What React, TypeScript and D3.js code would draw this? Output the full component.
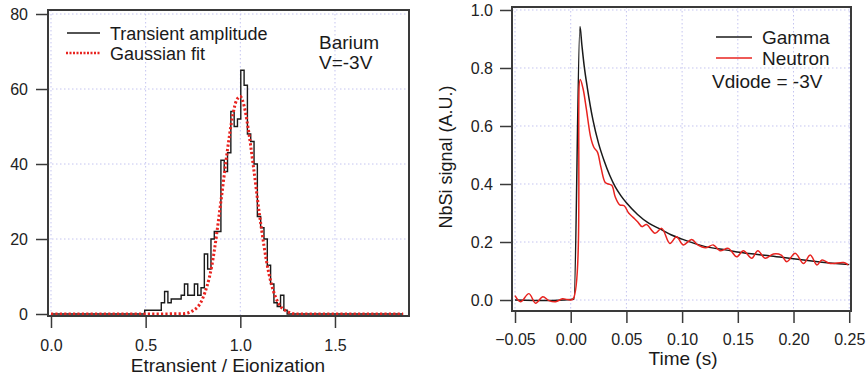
import React, { useEffect, useRef } from "react";
import * as d3 from "d3";

// left panel: histogram of transient amplitude + gaussian fit
const histStart = 0.495;
const histBin = 0.0175;
const histCounts = [
  1, 1, 1, 1, 1, 3, 6, 3, 4, 4, 4, 5, 8, 5, 5, 8, 5, 7, 16, 12, 20, 22, 22, 41,
  38, 43, 54, 50, 52, 65, 61, 48, 46, 40, 26, 23, 20, 13, 8, 3, 2, 5, 1, 0,
];
const histEnd = 1.86;

const fitX = [0, 0.5, 0.7, 0.75, 0.8, 0.85, 0.9, 0.93, 0.96, 0.98, 1.0, 1.02, 1.04, 1.07, 1.1, 1.15, 1.2, 1.25, 1.3, 1.86];
const fitY = [0, 0, 0.1, 0.9, 4, 13, 31, 43, 53, 57, 58, 55.5, 50, 39, 27, 11, 3, 0.6, 0, 0];

const histXTicks = [0, 0.5, 1.0, 1.5];
const histYTicks = [0, 20, 40, 60, 80];

// right panel: NbSi signal
const gammaT = [-0.05, -0.02, 0.0, 0.003, 0.0083, 0.01, 0.012, 0.015, 0.02, 0.025, 0.03, 0.035, 0.04, 0.045, 0.05, 0.06, 0.07, 0.08, 0.09, 0.1, 0.12, 0.14, 0.16, 0.18, 0.2, 0.22, 0.25];
const gammaV = [0.0, -0.002, 0.002, 0.003, 0.943, 0.88, 0.81, 0.73, 0.62, 0.54, 0.48, 0.43, 0.39, 0.36, 0.335, 0.295, 0.265, 0.245, 0.225, 0.21, 0.185, 0.172, 0.16, 0.152, 0.142, 0.133, 0.122];

const neutronT = [
  -0.05, -0.045, -0.0375, -0.0315, -0.025, -0.0195, -0.0135, -0.0075, -0.003, 0.002,
  0.0085, 0.011, 0.014, 0.018, 0.021, 0.024, 0.027, 0.031, 0.034, 0.037, 0.04, 0.044,
  0.048, 0.052, 0.056, 0.06, 0.064, 0.068, 0.0757, 0.0817, 0.089, 0.095, 0.101, 0.1086,
  0.114, 0.121, 0.128, 0.134, 0.1415, 0.149, 0.155, 0.1625, 0.168, 0.1745, 0.182, 0.189,
  0.194, 0.2015, 0.209, 0.215, 0.221, 0.2255, 0.233, 0.245, 0.249,
];
const neutronV = [
  0.015, -0.006, 0.022, -0.011, 0.011, -0.002, -0.006, 0.004, 0.002, 0.003,
  0.76, 0.73, 0.66, 0.56, 0.525, 0.51, 0.46, 0.405, 0.4, 0.395, 0.355, 0.328,
  0.325, 0.3, 0.285, 0.27, 0.253, 0.26, 0.23, 0.247, 0.195, 0.218, 0.19, 0.209,
  0.19, 0.18, 0.19, 0.17, 0.178, 0.149, 0.17, 0.144, 0.17, 0.144, 0.159, 0.155,
  0.132, 0.161, 0.126, 0.155, 0.121, 0.138, 0.126, 0.129, 0.121,
];

const sigXTicks = [-0.05, 0, 0.05, 0.1, 0.15, 0.2, 0.25];
const sigYTicks = [0, 0.2, 0.4, 0.6, 0.8, 1.0];

const FONT = "'Liberation Sans', Arial, Helvetica, sans-serif";
const AXIS = "#3a3a3a";
const GRID = "#c4c4f0";
const RED = "#e8231f";

function frameAndGrid(g, x, y, xt, yt) {
  const [x0, x1] = x.range();
  const [y1, y0] = y.range();
  const grid = g.append("g").attr("stroke", GRID).attr("stroke-width", 1).attr("stroke-dasharray", "1.5,2.5");
  xt.forEach((t) => grid.append("line").attr("x1", x(t)).attr("x2", x(t)).attr("y1", y0).attr("y2", y1));
  yt.forEach((t) => grid.append("line").attr("x1", x0).attr("x2", x1).attr("y1", y(t)).attr("y2", y(t)));
}

function axes(g, x, y, xt, yt, xfmt, yfmt, xpad, ypad) {
  const [x0] = x.range();
  const [y1] = y.range();
  const ax = g.append("g").attr("transform", `translate(0,${y1})`)
    .call(d3.axisBottom(x).tickValues(xt).tickSize(12).tickPadding(xpad).tickFormat(xfmt));
  const ay = g.append("g").attr("transform", `translate(${x0},0)`)
    .call(d3.axisLeft(y).tickValues(yt).tickSize(12).tickPadding(ypad).tickFormat(yfmt));
  [ax, ay].forEach((a) => {
    a.select(".domain").remove();
    a.selectAll("line").attr("stroke", AXIS).attr("stroke-width", 1.5);
    a.selectAll("text").attr("fill", "#222").style("font-size", "16px").style("font-family", FONT);
  });
}

function frame(g, x, y) {
  const [x0, x1] = x.range();
  const [y1, y0] = y.range();
  g.append("rect").attr("x", x0).attr("y", y0).attr("width", x1 - x0).attr("height", y1 - y0)
    .attr("fill", "none").attr("stroke", AXIS).attr("stroke-width", 2);
}

function label(g, text, x, y, size, anchor = "start") {
  return g.append("text").attr("x", x).attr("y", y).attr("text-anchor", anchor)
    .style("font-size", size + "px").style("font-family", FONT).attr("fill", "#1a1a1a").text(text);
}

function drawHistogram(g) {
  const x = d3.scaleLinear().domain([-0.0158, 1.891]).range([48, 409]);
  const y = d3.scaleLinear().domain([-0.533, 81.07]).range([316, 10]);

  frameAndGrid(g, x, y, histXTicks, histYTicks.filter((d) => d > 0));

  const steps = [[0, 0], ...histCounts.map((c, i) => [histStart + i * histBin, c]), [histEnd, 0]];
  const stepLine = d3.line().x((d) => x(d[0])).y((d) => y(d[1])).curve(d3.curveStepAfter);
  g.append("path").attr("d", stepLine(steps)).attr("fill", "none").attr("stroke", "#1a1a1a").attr("stroke-width", 1.4);

  const fitLine = d3.line().x((d, i) => x(fitX[i])).y((d) => y(d)).curve(d3.curveMonotoneX);
  g.append("path").attr("d", fitLine(fitY)).attr("fill", "none").attr("stroke", RED)
    .attr("stroke-width", 3).attr("stroke-dasharray", "2.2,2.2");

  frame(g, x, y);
  axes(g, x, y, histXTicks, histYTicks, d3.format(".1f"), d3.format("d"), 12, 8);

  g.append("line").attr("x1", 67).attr("x2", 100).attr("y1", 33).attr("y2", 33).attr("stroke", "#1a1a1a").attr("stroke-width", 1.5);
  g.append("line").attr("x1", 66).attr("x2", 100).attr("y1", 53).attr("y2", 53).attr("stroke", RED)
    .attr("stroke-width", 2.5).attr("stroke-dasharray", "2,1.5");
  label(g, "Transient amplitude", 110, 39.5, 18);
  label(g, "Gaussian fit", 110, 59.5, 18);
  label(g, "Barium", 319, 49, 19);
  label(g, "V=-3V", 319, 69, 19);
  label(g, "Etransient / Eionization", 228, 372, 19, "middle");
}

function drawSignal(g) {
  const x = d3.scaleLinear().domain([-0.0527, 0.2516]).range([512, 851]);
  const y = d3.scaleLinear().domain([-0.0379, 1.0103]).range([311, 7]);

  frameAndGrid(g, x, y, sigXTicks, sigYTicks);

  const gammaLine = d3.line().x((d, i) => x(gammaT[i])).y((d) => y(d)).curve(d3.curveMonotoneX);
  g.append("path").attr("d", gammaLine(gammaV)).attr("fill", "none").attr("stroke", "#1a1a1a").attr("stroke-width", 1.5);

  const neutronLine = d3.line().x((d, i) => x(neutronT[i])).y((d) => y(d)).curve(d3.curveCatmullRom.alpha(0.5));
  g.append("path").attr("d", neutronLine(neutronV)).attr("fill", "none").attr("stroke", RED).attr("stroke-width", 1.5);

  frame(g, x, y);
  axes(g, x, y, sigXTicks, sigYTicks, d3.format(".2f"), d3.format(".1f"), 11, 7);

  g.append("line").attr("x1", 716).attr("x2", 752).attr("y1", 37).attr("y2", 37).attr("stroke", "#1a1a1a").attr("stroke-width", 1.5);
  g.append("line").attr("x1", 716).attr("x2", 752).attr("y1", 58).attr("y2", 58).attr("stroke", RED).attr("stroke-width", 1.5);
  label(g, "Gamma", 762, 44, 19);
  label(g, "Neutron", 762, 65, 19);
  label(g, "Vdiode = -3V", 712, 88, 19);
  label(g, "Time (s)", 683, 365, 19, "middle");
  label(g, "NbSi signal (A.U.)", 0, 0, 18, "middle").attr("transform", "translate(452,157) rotate(-90)");
}

const App = () => {
  const svgRef = useRef(null);

  useEffect(() => {
    const svg = d3.select(svgRef.current);
    svg.selectAll("*").remove();
    drawHistogram(svg.append("g"));
    drawSignal(svg.append("g"));
  }, []);

  return (
    <div style={{ position: "absolute", left: 0, top: 0 }}>
      <svg ref={svgRef} width={868} height={380} style={{ display: "block", background: "#fff" }} />
    </div>
  );
};

export default App;
